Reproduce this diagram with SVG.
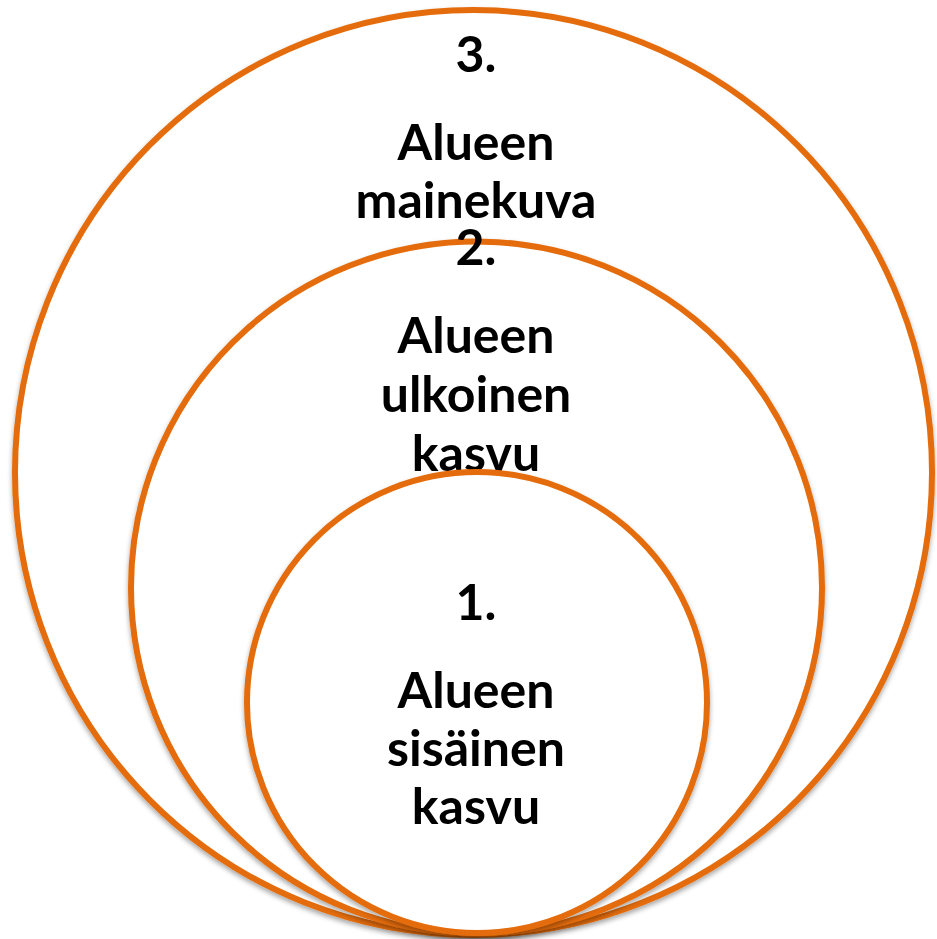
<svg xmlns="http://www.w3.org/2000/svg" width="937" height="939" viewBox="0 0 937 939">
<defs>
<style>
.ring{fill:#fff;stroke:#E46C0A;stroke-width:6;filter:url(#sh)}
.t{font-family:Lato,"Open Sans","Liberation Sans",sans-serif;font-weight:bold;font-size:50px;fill:#000;text-anchor:middle}
</style>
<filter id="sh" x="-5%" y="-5%" width="110%" height="112%">
<feDropShadow dx="0" dy="3" stdDeviation="2.5" flood-color="#000" flood-opacity="0.35"/>
</filter>
</defs>
<rect width="937" height="939" fill="#fff"/>
<g id="node3">
<ellipse class="ring" cx="473.5" cy="472.5" rx="458.5" ry="462.5"/>
<text class="t" x="476" y="72">3.</text>
<text class="t" x="476" y="160">Alueen</text>
<text class="t" x="476" y="218">mainekuva</text>
</g>
<g id="node2">
<ellipse class="ring" cx="476.5" cy="587.5" rx="345.5" ry="346"/>
<text class="t" x="476" y="265">2.</text>
<text class="t" x="476" y="353">Alueen</text>
<text class="t" x="476" y="412">ulkoinen</text>
<text class="t" x="476" y="471">kasvu</text>
</g>
<g id="node1">
<ellipse class="ring" cx="477" cy="702.5" rx="230" ry="230.5"/>
<text class="t" x="476" y="620">1.</text>
<text class="t" x="476" y="708">Alueen</text>
<text class="t" x="476" y="766">sisäinen</text>
<text class="t" x="476" y="824">kasvu</text>
</g>
<g id="connectors"/>
</svg>
